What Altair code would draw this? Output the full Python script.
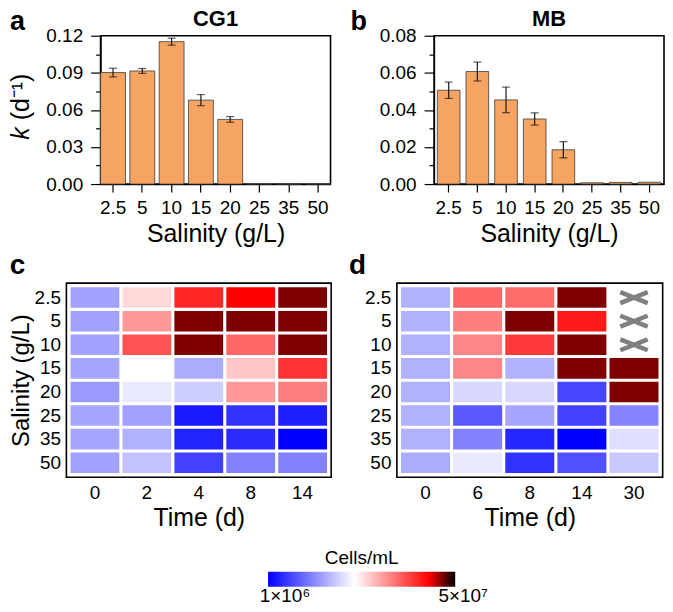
import altair as alt
import pandas as pd

FONT = "Liberation Sans"
BAR_FILL = "#F5A462"

# ---------------- data ----------------
salinity = ["2.5", "5", "10", "15", "20", "25", "35", "50"]

cg1_k = [0.0902, 0.0915, 0.1152, 0.0679, 0.0523, 0.0005, 0.0002, 0.0003]
cg1_err = [0.0035, 0.0020, 0.0028, 0.0045, 0.0023, 0.0, 0.0, 0.0]
mb_k = [0.0506, 0.0607, 0.0454, 0.0351, 0.0185, 0.0007, 0.0009, 0.0010]
mb_err = [0.0044, 0.0051, 0.0069, 0.0033, 0.0044, 0.0, 0.0, 0.0]

time_c = ["0", "2", "4", "8", "14"]
time_d = ["0", "6", "8", "14", "30"]

# colour level along the Cells/mL colour bar (0 = 1x10^6 end, 1 = 5x10^7 end), rows = salinity
level_c = [
    [0.29, 0.52, 0.80, 0.86, 0.93],
    [0.29, 0.62, 0.93, 0.93, 0.93],
    [0.29, 0.73, 0.93, 0.70, 0.93],
    [0.30, 0.46, 0.31, 0.55, 0.78],
    [0.28, 0.42, 0.37, 0.62, 0.66],
    [0.30, 0.29, 0.045, 0.09, 0.054],
    [0.30, 0.32, 0.063, 0.08, 0.0],
    [0.29, 0.35, 0.117, 0.235, 0.235],
]
level_d = [
    [0.32, 0.70, 0.69, 0.93, None],
    [0.32, 0.66, 0.93, 0.82, None],
    [0.32, 0.65, 0.77, 0.93, None],
    [0.32, 0.65, 0.32, 0.93, 0.93],
    [0.32, 0.39, 0.39, 0.126, 0.93],
    [0.32, 0.16, 0.30, 0.117, 0.24],
    [0.32, 0.235, 0.07, 0.0, 0.40],
    [0.31, 0.42, 0.09, 0.145, 0.36],
]
missing_d = ["2.5", "5", "10"]

cbar_stops = [0.0, 0.46, 0.86, 1.0]
cbar_colors = ["#0000ff", "#ffffff", "#ff0000", "#000000"]
cbar_title = "Cells/mL"
cbar_labels = ["1×10⁶", "5×10⁷"]


def text_mark(txt, x, y, size, weight="bold", align="left", style="normal", angle=0):
    return alt.Chart(alt.Data(values=[{"t": txt}])).mark_text(
        text=txt, fontSize=size, fontWeight=weight, align=align, baseline="alphabetic",
        font=FONT, fontStyle=style, angle=angle, color="black",
    ).encode(x=alt.value(x), y=alt.value(y))


def bar_panel(k, err, ymax, yvals, minor, pin, pout, letter, lx, ly, title, ytitle, W, H):
    df = pd.DataFrame({"sal": salinity, "k": k, "err": err})
    df["lo"] = df["k"] - df["err"]
    df["hi"] = df["k"] + df["err"]
    xenc = alt.X("sal:N", sort=salinity,
                 scale=alt.Scale(paddingInner=pin, paddingOuter=pout),
                 axis=alt.Axis(title="Salinity (g/L)", labelAngle=0, tickSize=8,
                               labelPadding=7, titlePadding=4))
    yscale = alt.Scale(domain=[0, ymax], nice=False, zero=True)
    bars = alt.Chart(df).mark_bar(fill=BAR_FILL, stroke="#3c3c3c", strokeWidth=0.8).encode(
        x=xenc,
        y=alt.Y("k:Q", scale=yscale,
                axis=alt.Axis(values=yvals, format=".2f", title=None, tickSize=10,
                              labelPadding=8, orient="left")),
    )
    minor_layer = alt.Chart(df).mark_bar(opacity=0).encode(
        x=xenc,
        y=alt.Y("k:Q", scale=yscale,
                axis=alt.Axis(values=minor, labels=False, domain=False, title=None,
                              tickSize=5, orient="left")),
    )
    edf = df[df["err"] > 0]
    rule = alt.Chart(edf).mark_rule(color="#1a1a1a", strokeWidth=1.2).encode(
        x=xenc, y=alt.Y("lo:Q", scale=yscale, axis=None), y2="hi:Q")
    cap_lo = alt.Chart(edf).mark_tick(color="#1a1a1a", thickness=1.2, size=8).encode(
        x=xenc, y=alt.Y("lo:Q", scale=yscale, axis=None))
    cap_hi = alt.Chart(edf).mark_tick(color="#1a1a1a", thickness=1.2, size=8).encode(
        x=xenc, y=alt.Y("hi:Q", scale=yscale, axis=None))
    layers = [bars, minor_layer, rule, cap_lo, cap_hi,
              text_mark(letter, lx, ly, 27),
              text_mark(title, W / 2, -9.5, 22, align="center")]
    if ytitle:
        layers.append(text_mark("k", -72, 92, 25, weight="normal", align="right",
                                style="italic", angle=270))
        layers.append(text_mark("(d⁻¹)", -72, 85, 25, weight="normal", align="left",
                                angle=270))
    return alt.layer(*layers).resolve_axis(y="independent").properties(width=W, height=H)


CSCALE = alt.Scale(domain=cbar_stops, range=cbar_colors, interpolate="rgb")


def heat_panel(times, levels, letter, lx, ly, ytitle, W, H, shift=0.0, missing=None):
    """Heatmap whose visible frame starts `shift` px left of the view origin."""
    rows = []
    for si, s in enumerate(salinity):
        for ti, t in enumerate(times):
            v = levels[si][ti]
            if v is not None:
                rows.append({"sal": s, "time": t, "level": v})
    df = pd.DataFrame(rows)
    x0 = -shift
    x1 = W - shift
    xenc = alt.X("time:N", sort=times,
                 scale=alt.Scale(paddingInner=0.06, paddingOuter=0.08, range=[x0, x1]),
                 axis=alt.Axis(title="Time (d)", labelAngle=0, ticks=False, domain=False,
                               labelPadding=6, titlePadding=4))
    if ytitle:
        yaxis = alt.Axis(ticks=False, domain=False, labelPadding=6, titlePadding=1,
                         title="Salinity (g/L)", titleFontSize=24, offset=shift)
    else:
        yaxis = alt.Axis(ticks=False, domain=False, labelPadding=6, title=None, offset=shift)
    yenc = alt.Y("sal:N", sort=salinity,
                 scale=alt.Scale(paddingInner=0.13, paddingOuter=0.18), axis=yaxis)
    rect = alt.Chart(df).mark_rect().encode(
        x=xenc, y=yenc,
        color=alt.Color("level:Q", scale=CSCALE, legend=None),
    )
    frame = alt.Chart(alt.Data(values=[{"t": 1}])).mark_rect(
        fillOpacity=0, stroke="black", strokeWidth=1.6,
    ).encode(x=alt.value(x0), x2=alt.value(x1), y=alt.value(0), y2=alt.value(H))
    layers = [rect]
    if missing:
        xdf = pd.DataFrame({"sal": missing, "time": [times[-1]] * len(missing)})
        layers.append(alt.Chart(xdf).mark_point(
            shape="M-1,-0.4L1,0.4M-1,0.4L1,-0.4", size=760, filled=False,
            stroke="#808080", strokeWidth=4.5, opacity=1,
        ).encode(x=xenc, y=yenc))
    layers.append(frame)
    layers.append(text_mark(letter, lx - shift, ly, 28))
    return alt.layer(*layers).properties(
        width=x1, height=H, view=alt.ViewBackground(stroke="transparent"))


def colorbar_row(W, H, ox, oy):
    grad = alt.Gradient(
        gradient="linear",
        stops=[alt.GradientStop(offset=o, color=c) for o, c in zip(cbar_stops, cbar_colors)],
        x1=0, x2=1, y1=0, y2=0,
    )
    bar = alt.Chart(alt.Data(values=[{"t": 1}])).mark_rect(fill=grad).encode(
        x=alt.value(268 - ox), x2=alt.value(456 - ox),
        y=alt.value(oy + 7.7), y2=alt.value(oy + 22.7))
    t = text_mark(cbar_title, 362 - ox, oy, 19, weight="normal", align="center")
    l0 = text_mark(cbar_labels[0], 285 - ox, oy + 37.7, 19, weight="normal", align="center")
    l1 = text_mark(cbar_labels[1], 464 - ox, oy + 37.7, 19, weight="normal", align="center")
    return alt.layer(bar, t, l0, l1).properties(
        width=W, height=H, view=alt.ViewBackground(stroke="transparent"))


A_LEFT = 99.75   # page x of panel a's frame (shared column origin)
C_LEFT = 65.4    # page x of panel c's frame
SHIFT = A_LEFT - C_LEFT

a = bar_panel(cg1_k, cg1_err, 0.12, [0, 0.03, 0.06, 0.09, 0.12],
              [0.015, 0.045, 0.075, 0.105], 0.15, 0.0, "a", -91, -6, "CG1", True, 231, 149)
b = bar_panel(mb_k, mb_err, 0.08, [0, 0.02, 0.04, 0.06, 0.08],
              [0.01, 0.03, 0.05, 0.07], 0.21, 0.115, "b", -84, -6, "MB", False, 231, 149)
c = heat_panel(time_c, level_c, "c", -57, -9, True, 266, 195, shift=SHIFT)
d = heat_panel(time_d, level_d, "d", -48, -9, False, 267, 195, missing=missing_d)
cb = colorbar_row(400, 66, A_LEFT, 27.8)

row1 = alt.hconcat(a, b, spacing=17)
row2 = alt.hconcat(c, d, spacing=16 - SHIFT)

chart = (
    alt.vconcat(row1, row2, cb, spacing=3.5)
    .resolve_scale(color="shared")
    .properties(padding={"left": 0, "top": -2.5, "right": 0, "bottom": -3})
    .configure(font=FONT)
    .configure_view(stroke="black", strokeWidth=1.6)
    .configure_axis(
        labelFontSize=19, titleFontSize=25, titleFontWeight="normal",
        labelColor="black", titleColor="black", tickColor="black", domainColor="black",
        labelFont=FONT, titleFont=FONT, grid=False, tickWidth=1.2, domainWidth=1.2,
    )
)

chart.save("out.html", embed_options={"renderer": "svg", "actions": False})
